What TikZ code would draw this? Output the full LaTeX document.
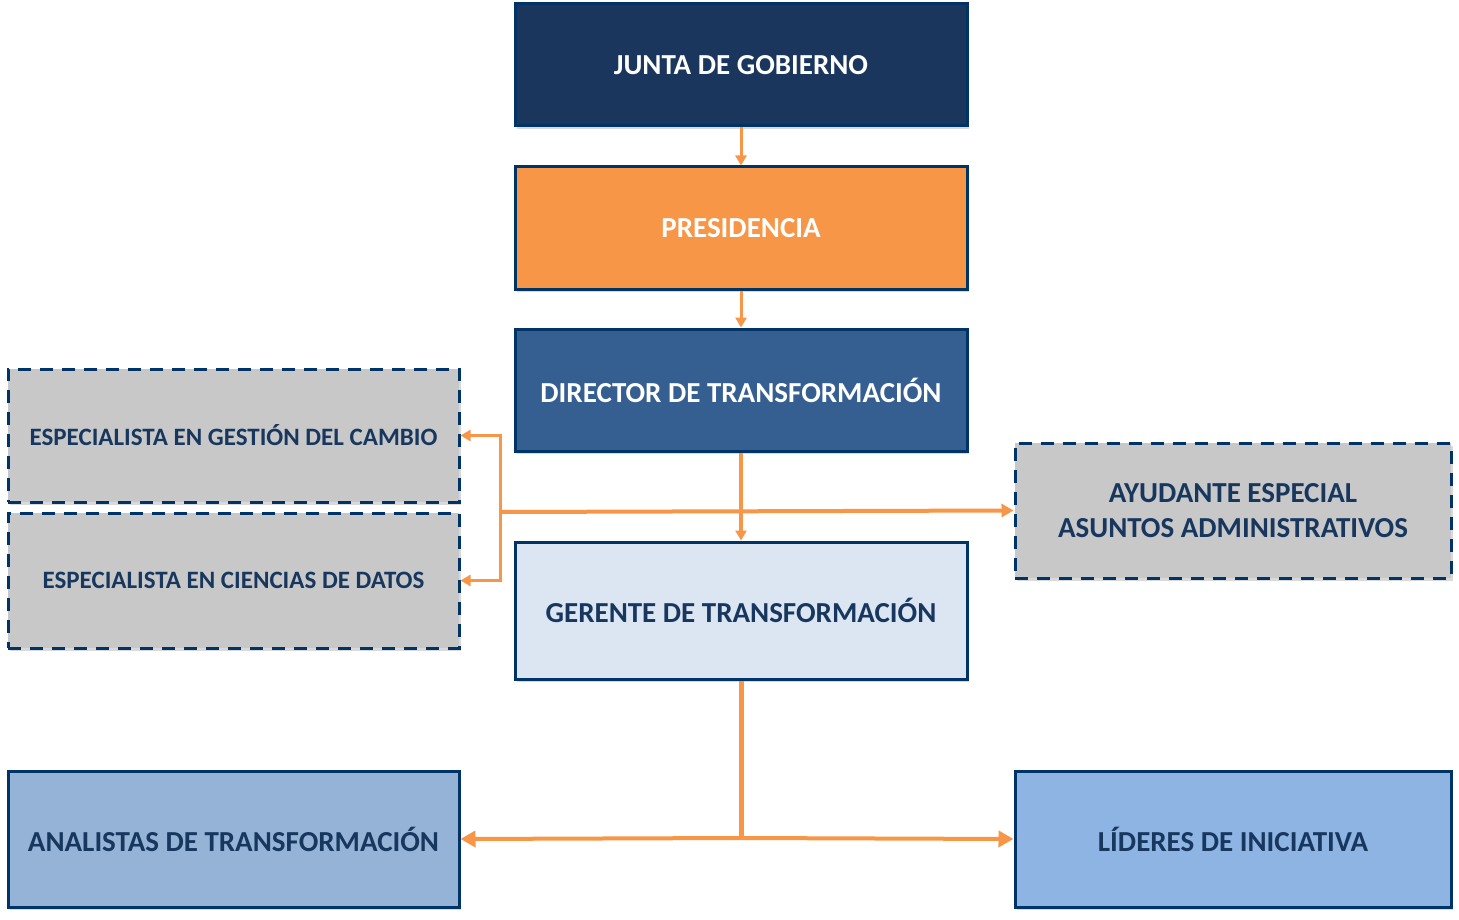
\documentclass[tikz,border=0pt]{standalone}
\usepackage{fontspec}
\setmainfont{Carlito}
\usetikzlibrary{arrows.meta,shadows}
\definecolor{navy}{RGB}{0,51,102}
\definecolor{juntaC}{RGB}{27,54,93}
\definecolor{orangeC}{RGB}{247,150,70}
\definecolor{dirC}{RGB}{54,95,145}
\definecolor{gerC}{RGB}{220,230,242}
\definecolor{grayC}{RGB}{200,200,200}
\definecolor{anaC}{RGB}{149,179,215}
\definecolor{lidC}{RGB}{142,180,227}
\definecolor{txtC}{RGB}{23,55,94}
\begin{document}
\begin{tikzpicture}[x=1pt,y=-1pt,
  box/.style={draw=navy,line width=3pt,inner sep=0pt,align=center,
    font=\fontsize{29}{35}\selectfont\bfseries,
    drop shadow={shadow xshift=2pt,shadow yshift=-3pt,opacity=0.3}},
  dbox/.style={box,fill=grayC,dash pattern=on 13pt off 9pt,text=txtC,
    font=\fontsize{25}{35}\selectfont\bfseries},
  conn/.style={draw=orangeC,line width=3pt},
  tip/.style={-{Triangle[length=10pt,width=11pt]}},
  midtip/.style={-{Triangle[length=12pt,width=13pt]}},
  bigtip/.style={-{Triangle[length=15pt,width=16pt]}}]
\useasboundingbox (0,0) rectangle (1459,920);
\node[box,fill=juntaC,text=white,minimum width=452,minimum height=122] (junta) at (741,65) {JUNTA DE GOBIERNO};
\node[box,fill=orangeC,text=white,minimum width=452,minimum height=122] (pres) at (741,228) {PRESIDENCIA};
\node[box,fill=dirC,text=white,minimum width=452,minimum height=122] (dir) at (741,390) {DIRECTOR DE TRANSFORMACIÓN};
\node[box,fill=gerC,text=txtC,minimum width=452,minimum height=137] (ger) at (741,610.5) {GERENTE DE TRANSFORMACIÓN};
\node[dbox,minimum width=451,minimum height=133] (espg) at (233.5,435.5) {ESPECIALISTA EN GESTIÓN DEL CAMBIO};
\node[dbox,minimum width=451,minimum height=135] (espc) at (233.5,580.5) {ESPECIALISTA EN CIENCIAS DE DATOS};
\node[dbox,minimum width=436,minimum height=135,font=\fontsize{29}{35}\selectfont\bfseries] (ayud) at (1233,510.5) {AYUDANTE ESPECIAL\\ASUNTOS ADMINISTRATIVOS};
\node[box,fill=anaC,text=txtC,minimum width=451,minimum height=136] (ana) at (233.5,839) {ANALISTAS DE TRANSFORMACIÓN};
\node[box,fill=lidC,text=txtC,minimum width=436,minimum height=136] (lid) at (1233,839) {LÍDERES DE INICIATIVA};
\coordinate (j) at (741,512);
\coordinate (bl) at (500,512);
\coordinate (k) at (741,838);
\draw[conn,tip] (junta) -- (pres);
\draw[conn,tip] (pres) -- (dir);
\draw[conn,line width=4pt,tip] (dir) -- (ger);
\draw[conn,line width=4pt,midtip] (bl) -- (ayud.west);
\draw[conn,{Triangle[length=10pt,width=11pt]}-{Triangle[length=10pt,width=11pt]}] (espg.east) -| (bl) |- (espc.east);
\draw[conn,line width=5pt] (ger.south) -- (k);
\draw[conn,line width=4pt,bigtip] (k) -- (ana.east);
\draw[conn,line width=4pt,bigtip] (k) -- (lid.west);
\end{tikzpicture}
\end{document}
